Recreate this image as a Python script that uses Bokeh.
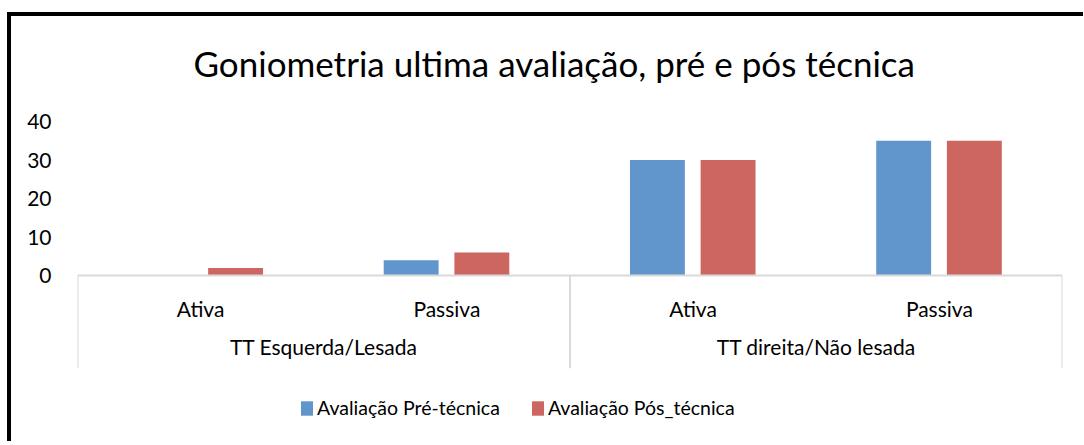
from bokeh.plotting import figure
from bokeh.models import (FactorRange, Range1d, CategoricalAxis, FixedTicker,
                          Legend, LegendItem, ColumnDataSource)
from bokeh.transform import dodge
from bokeh.embed import file_html
from bokeh.resources import INLINE

# ---- data ----
groups = ["TT Esquerda/Lesada", "TT direita/Não lesada"]
tipos = ["Ativa", "Passiva"]
serie_pre = "Avaliação Pré-técnica"
serie_pos = "Avaliação Pós_técnica"
valores_pre = [0, 4, 30, 35]
valores_pos = [2, 6, 30, 35]
y_ticks = [0, 10, 20, 30, 40]
titulo = "Goniometria ultima avaliação, pré e pós técnica"

FONT = "Lato"
BLUE = "#6096CB"
RED = "#CD6660"
GRAY = "#D9D9D9"

factors = [(g, t) for g in groups for t in tipos]
src = ColumnDataSource(dict(x=factors, pre=valores_pre, pos=valores_pos))

x_range = FactorRange(*factors, factor_padding=0, subgroup_padding=0,
                      group_padding=0, range_padding=0)
p = figure(x_range=x_range, y_range=Range1d(-43, 40),
           width=1076, height=441, output_backend="svg", toolbar_location=None,
           x_axis_location=None, title=titulo,
           min_border_left=70, min_border_right=21, min_border_top=121,
           min_border_bottom=0)
# black chart border (top and left edges) drawn behind a transparent canvas
p.styles = {
    "background-image": "linear-gradient(#000, #000), linear-gradient(#000, #000)",
    "background-size": "100% 4px, 4px 100%",
    "background-position": "0 12px, 0 12px",
    "background-repeat": "no-repeat",
}
p.margin = (0, 0, 0, 7)
p.border_fill_alpha = 0
p.background_fill_alpha = 0
p.outline_line_color = None
p.grid.visible = False

p.title.text_font = FONT
p.title.text_font_size = "35px"
p.title.text_font_style = "normal"
p.title.text_color = "#000000"
p.title.align = "left"
p.title.offset = 116
p.title.standoff = 76

# y axis
ya = p.yaxis[0]
ya.ticker = FixedTicker(ticks=y_ticks)
ya.axis_line_color = None
ya.major_tick_line_color = None
ya.minor_tick_line_color = None
ya.major_label_standoff = 20
ya.major_label_text_font = FONT
ya.major_label_text_font_size = "21px"
ya.major_label_text_color = "#000000"

# bars
r_pre = p.vbar(x=dodge("x", -0.145, range=p.x_range), top="pre", width=0.223,
               source=src, fill_color=BLUE, line_color=None)
r_pos = p.vbar(x=dodge("x", 0.142, range=p.x_range), top="pos", width=0.223,
               source=src, fill_color=RED, line_color=None)

# separators of the category table
sep = ColumnDataSource(dict(
    x=[(groups[0], tipos[0], -0.5), (groups[1], tipos[0], -0.5), (groups[1], tipos[1], 0.5)],
    y0=[0, 0, 0], y1=[-24, -24, -24]))
p.segment(x0="x", y0="y0", x1="x", y1="y1", source=sep, line_color=GRAY, line_width=2)

# inner category labels (Ativa / Passiva), axis line at 0
ax_a = CategoricalAxis(fixed_location=0)
ax_a.axis_line_color = GRAY
ax_a.axis_line_width = 2
ax_a.major_tick_line_color = None
ax_a.minor_tick_line_color = None
ax_a.major_label_standoff = 14
ax_a.major_label_text_font = FONT
ax_a.major_label_text_font_size = "21px"
ax_a.major_label_text_color = "#000000"
ax_a.group_text_color = None
ax_a.separator_line_color = None
p.add_layout(ax_a, "below")

# outer group labels
p.extra_x_ranges = {"grp": FactorRange(*groups, factor_padding=0, range_padding=0)}
ax_b = CategoricalAxis(x_range_name="grp", fixed_location=0)
ax_b.axis_line_color = None
ax_b.major_tick_line_color = None
ax_b.minor_tick_line_color = None
ax_b.major_label_standoff = 52
ax_b.major_label_text_font = FONT
ax_b.major_label_text_font_size = "21px"
ax_b.major_label_text_color = "#000000"
p.add_layout(ax_b, "below")

legend = Legend(items=[LegendItem(label=serie_pre, renderers=[r_pre]),
                       LegendItem(label=serie_pos, renderers=[r_pos])],
                orientation="horizontal", location=(222, 22),
                glyph_width=15, glyph_height=18, label_standoff=3, spacing=30,
                padding=0, margin=0, border_line_color=None,
                background_fill_alpha=0,
                label_text_font=FONT, label_text_font_size="19.5px",
                label_text_color="#000000")
p.add_layout(legend, "center")

open("out.html", "w").write(file_html(p, INLINE))
